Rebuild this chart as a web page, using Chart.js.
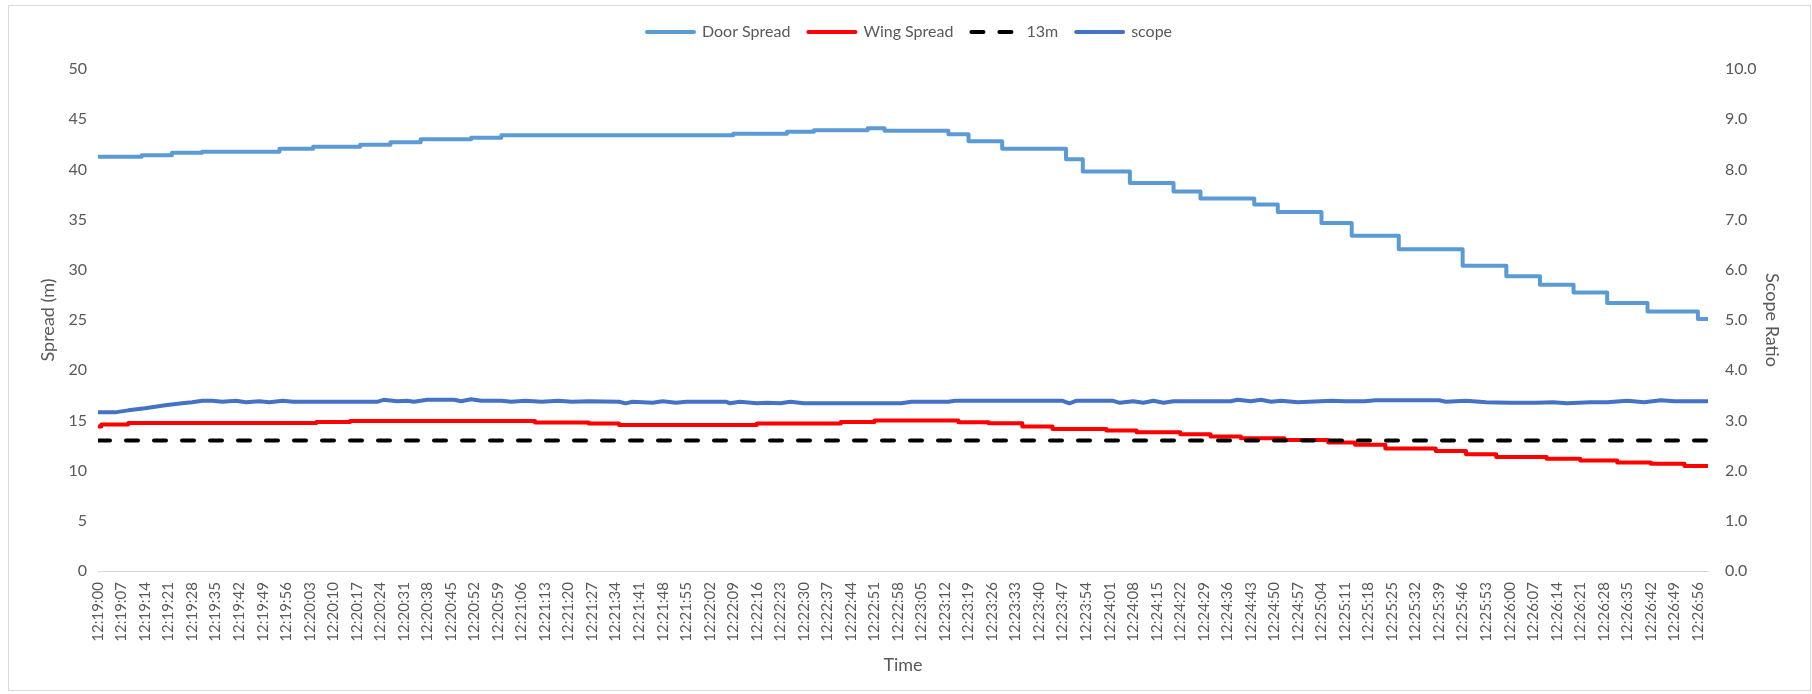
<!DOCTYPE html>
<html>
<head>
<meta charset="utf-8">
<title>Door and wing spread</title>
<script src="https://cdn.jsdelivr.net/npm/chart.js@4.4.1/dist/chart.umd.min.js"></script>
<style>
  html, body { margin: 0; padding: 0; background: #fff; }
  .frame { position: absolute; left: 8px; top: 5px; width: 1801px; height: 684px; border: 1px solid #d9d9d9; }
  #chart { position: absolute; left: 0; top: 0; }
</style>
</head>
<body>
<div class="frame"></div>
<canvas id="chart" width="1812" height="694"></canvas>
<script>
// x values are seconds after 12:19:00, one sample per second up to 12:26:59
const tickLabels = [
  '12:19:00','12:19:07','12:19:14','12:19:21','12:19:28','12:19:35','12:19:42','12:19:49','12:19:56',
  '12:20:03','12:20:10','12:20:17','12:20:24','12:20:31','12:20:38','12:20:45','12:20:52','12:20:59',
  '12:21:06','12:21:13','12:21:20','12:21:27','12:21:34','12:21:41','12:21:48','12:21:55',
  '12:22:02','12:22:09','12:22:16','12:22:23','12:22:30','12:22:37','12:22:44','12:22:51','12:22:58',
  '12:23:05','12:23:12','12:23:19','12:23:26','12:23:33','12:23:40','12:23:47','12:23:54',
  '12:24:01','12:24:08','12:24:15','12:24:22','12:24:29','12:24:36','12:24:43','12:24:50','12:24:57',
  '12:25:04','12:25:11','12:25:18','12:25:25','12:25:32','12:25:39','12:25:46','12:25:53',
  '12:26:00','12:26:07','12:26:14','12:26:21','12:26:28','12:26:35','12:26:42','12:26:49','12:26:56'
];

// door spread (m): second where each level starts, and the level
const doorTime = [0, 13, 22, 31, 54, 64, 78, 87, 96, 111, 120, 189, 205, 213, 229, 234, 253, 259, 269, 288,
  293, 307, 320, 328, 344, 351, 364, 373, 387, 406, 419, 429, 439, 449, 461, 476, 479];
const doorSpread = [41.25, 41.4, 41.65, 41.75, 42.05, 42.25, 42.45, 42.7, 43.0, 43.15, 43.4, 43.55, 43.75, 43.9, 44.1, 43.85, 43.5, 42.8, 42.05, 41.0,
  39.8, 38.65, 37.8, 37.1, 36.5, 35.75, 34.65, 33.4, 32.05, 30.4, 29.35, 28.5, 27.75, 26.7, 25.85, 25.1, 25.1];

// wing spread (m)
const wingTime = [0, 1, 9, 65, 75, 130, 146, 155, 196, 221, 231, 256, 265, 275, 284, 300, 309, 322, 331, 340,
  353, 366, 374, 383, 398, 407, 416, 431, 441, 452, 462, 472, 479];
const wingSpread = [14.4, 14.6, 14.75, 14.85, 14.95, 14.8, 14.7, 14.55, 14.7, 14.85, 15.0, 14.82, 14.72, 14.4, 14.15, 14.0, 13.83, 13.63, 13.4, 13.23,
  13.05, 12.8, 12.57, 12.2, 11.95, 11.62, 11.35, 11.18, 11.0, 10.8, 10.67, 10.47, 10.47];

// 13 m reference
const limitTime = [0, 479];
const limitSpread = [13, 13];

// scope ratio (right axis)
const scopeTime = [0, 5, 9, 14, 17, 20, 25, 28, 31, 34, 37, 41, 44, 48, 51, 55, 58, 83, 85, 89,
  92, 94, 98, 106, 108, 111, 114, 120, 123, 127, 132, 137, 141, 146, 155, 157, 159, 165, 168, 172,
  175, 187, 188, 191, 196, 199, 203, 206, 210, 239, 242, 253, 255, 287, 289, 291, 302, 304, 308, 311,
  314, 317, 320, 337, 339, 343, 346, 349, 352, 357, 367, 371, 377, 380, 399, 401, 407, 413, 420, 428,
  433, 437, 444, 449, 455, 460, 465, 469, 479];
const scopeRatio = [3.16, 3.16, 3.20, 3.24, 3.27, 3.30, 3.34, 3.36, 3.39, 3.39, 3.37, 3.39, 3.36, 3.38, 3.36, 3.39, 3.37, 3.37, 3.41, 3.38,
  3.39, 3.37, 3.41, 3.41, 3.38, 3.42, 3.39, 3.39, 3.37, 3.39, 3.37, 3.39, 3.37, 3.38, 3.37, 3.34, 3.37, 3.35, 3.38, 3.35,
  3.37, 3.37, 3.34, 3.37, 3.34, 3.35, 3.34, 3.37, 3.34, 3.34, 3.37, 3.37, 3.39, 3.39, 3.34, 3.39, 3.39, 3.35, 3.38, 3.35,
  3.39, 3.35, 3.38, 3.38, 3.41, 3.38, 3.41, 3.37, 3.39, 3.36, 3.39, 3.38, 3.38, 3.40, 3.40, 3.37, 3.39, 3.36, 3.35, 3.35,
  3.36, 3.34, 3.36, 3.36, 3.39, 3.36, 3.40, 3.38, 3.38];

const textColor = '#595959';
const fontFamily = 'Lato, "Open Sans", sans-serif';

function pairs(times, values) {
  return times.map((t, i) => ({ x: t, y: values[i] }));
}

new Chart(document.getElementById('chart'), {
  type: 'line',
  data: {
    datasets: [
      {
        label: 'Door Spread',
        data: pairs(doorTime, doorSpread),
        yAxisID: 'y',
        borderColor: '#5b9bd5',
        borderWidth: 4,
        stepped: 'before',
        order: 4
      },
      {
        label: 'Wing Spread',
        data: pairs(wingTime, wingSpread),
        yAxisID: 'y',
        borderColor: '#ff0000',
        borderWidth: 4,
        stepped: 'before',
        order: 3
      },
      {
        label: '13m',
        data: pairs(limitTime, limitSpread),
        yAxisID: 'y',
        borderColor: '#000000',
        borderWidth: 4,
        borderDash: [12, 16],
        order: 2
      },
      {
        label: 'scope',
        data: pairs(scopeTime, scopeRatio),
        yAxisID: 'y1',
        borderColor: '#4472c4',
        borderWidth: 4,
        order: 1
      }
    ]
  },
  options: {
    responsive: false,
    animation: false,
    layout: { padding: { left: 9, right: 2, top: 6, bottom: 4 } },
    elements: {
      point: { radius: 0, hoverRadius: 0 },
      line: { tension: 0, fill: false, borderCapStyle: 'round', borderJoinStyle: 'round' }
    },
    plugins: {
      tooltip: { enabled: false },
      legend: {
        position: 'top',
        labels: {
          usePointStyle: true,
          pointStyle: 'line',
          pointStyleWidth: 47,
          padding: 18,
          color: textColor,
          font: { family: fontFamily, size: 16 },
          // point style legend ignores the dash, so copy it from the dataset
          generateLabels: (chart) => Chart.defaults.plugins.legend.labels.generateLabels(chart).map(item => {
            const ds = chart.data.datasets[item.datasetIndex];
            item.lineDash = ds.borderDash || [];
            item.lineCap = 'round';
            return item;
          }),
          sort: (a, b) => a.datasetIndex - b.datasetIndex
        }
      },
      // empty block, only keeps the plot below the legend
      subtitle: {
        display: true,
        text: '',
        position: 'top',
        weight: 500,
        font: { size: 10, lineHeight: 1 },
        padding: { top: 0, bottom: 9 }
      }
    },
    scales: {
      x: {
        type: 'linear',
        min: 0,
        max: 479,
        afterBuildTicks: (axis) => {
          axis.ticks = tickLabels.map((label, i) => ({ value: i * 7 }));
        },
        afterFit: (axis) => { axis.height = 119; },
        grid: { display: false, drawTicks: false },
        border: { display: true, color: '#d9d9d9', width: 1 },
        ticks: {
          autoSkip: false,
          minRotation: 90,
          maxRotation: 90,
          padding: 11,
          color: textColor,
          font: { family: fontFamily, size: 15 },
          callback: (value, index) => tickLabels[index]
        },
        title: {
          display: true,
          text: 'Time',
          color: textColor,
          font: { family: fontFamily, size: 18 },
          padding: { top: 0, bottom: 14 }
        }
      },
      y: {
        position: 'left',
        min: 0,
        max: 50,
        afterFit: (axis) => { axis.width = 89; },
        grid: { display: false, drawTicks: false },
        border: { display: false },
        ticks: {
          stepSize: 5,
          padding: 11,
          color: textColor,
          font: { family: fontFamily, size: 16 }
        },
        title: {
          display: true,
          text: 'Spread (m)',
          color: textColor,
          font: { family: fontFamily, size: 18 },
          padding: { top: 28, bottom: 0 }
        }
      },
      y1: {
        position: 'right',
        min: 0,
        max: 10,
        afterFit: (axis) => { axis.width = 102; },
        grid: { display: false, drawTicks: false },
        border: { display: false },
        ticks: {
          stepSize: 1,
          padding: 17,
          color: textColor,
          font: { family: fontFamily, size: 16 },
          callback: (value) => value.toFixed(1)
        },
        title: {
          display: true,
          text: 'Scope Ratio',
          color: textColor,
          font: { family: fontFamily, size: 18 },
          padding: { top: 27, bottom: 0 }
        }
      }
    }
  }
});
</script>
</body>
</html>
